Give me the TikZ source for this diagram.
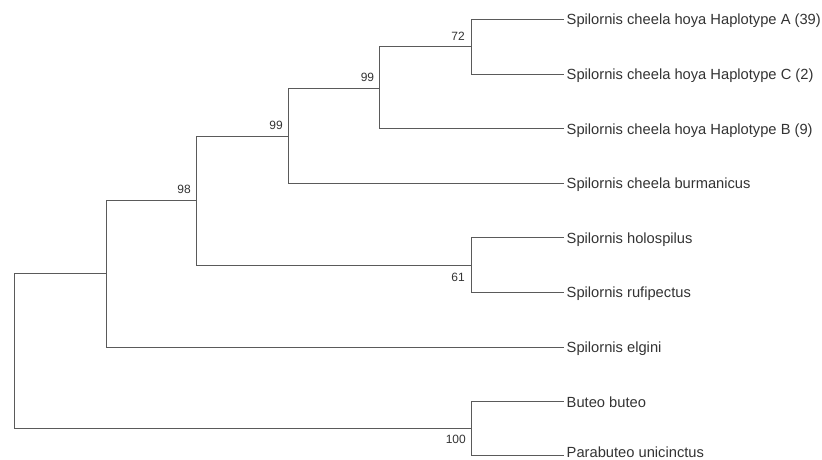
\documentclass[tikz,border=0pt]{standalone}
\usepackage{fontspec}
\setmainfont{Liberation Sans}
\definecolor{branch}{HTML}{5A5A5A}
\definecolor{ink}{HTML}{333333}
\begin{document}
\begin{tikzpicture}[x=1pt,y=-1pt,
  branchline/.style={draw=branch,line width=1pt,line cap=rect},
  taxon/.style={anchor=base west,inner sep=0pt,text=ink,font=\fontsize{14.7}{17}\selectfont},
  bslabel/.style={anchor=base east,inner sep=0pt,text=ink,font=\fontsize{12}{14}\selectfont}]
\useasboundingbox (0,0) rectangle (822,460);

% leaf tips
\coordinate (tA)   at (563,19.5);
\coordinate (tC)   at (563,74.1);
\coordinate (tB)   at (563,128.7);
\coordinate (tbur) at (563,183.3);
\coordinate (thol) at (563,237.9);
\coordinate (truf) at (563,292.5);
\coordinate (telg) at (563,347.1);
\coordinate (tbut) at (563,401.7);
\coordinate (tpar) at (563,455);

% internal nodes
\coordinate (n72)  at (471,46.8);
\coordinate (n99a) at (379.3,88.8);
\coordinate (n99b) at (288,136);
\coordinate (n61)  at (471,265.2);
\coordinate (n98)  at (196,200.6);
\coordinate (nelg) at (106,273.8);
\coordinate (n100) at (471,428.4);
\coordinate (root) at (14,351.1);

% branches
\path[branchline] (n72) |- (tA)  (n72) |- (tC);
\path[branchline] (n99a) |- (n72)  (n99a) |- (tB);
\path[branchline] (n99b) |- (n99a)  (n99b) |- (tbur);
\path[branchline] (n61) |- (thol)  (n61) |- (truf);
\path[branchline] (n98) |- (n99b)  (n98) |- (n61);
\path[branchline] (nelg) |- (n98)  (nelg) |- (telg);
\path[branchline] (n100) |- (tbut)  (n100) |- (tpar);
\path[branchline] (root) |- (nelg)  (root) |- (n100);

% taxon names
\node[taxon] (lA)   at ([xshift=3.5pt,yshift=-5.3pt]tA)   {Spilornis cheela hoya Haplotype A (39)};
\node[taxon] (lC)   at ([xshift=3.5pt,yshift=-5.3pt]tC)   {Spilornis cheela hoya Haplotype C (2)};
\node[taxon] (lB)   at ([xshift=3.5pt,yshift=-5.3pt]tB)   {Spilornis cheela hoya Haplotype B (9)};
\node[taxon] (lbur) at ([xshift=3.5pt,yshift=-5.3pt]tbur) {Spilornis cheela burmanicus};
\node[taxon] (lhol) at ([xshift=3.5pt,yshift=-5.3pt]thol) {Spilornis holospilus};
\node[taxon] (lruf) at ([xshift=3.5pt,yshift=-5.3pt]truf) {Spilornis rufipectus};
\node[taxon] (lelg) at ([xshift=3.5pt,yshift=-5.3pt]telg) {Spilornis elgini};
\node[taxon] (lbut) at ([xshift=3.5pt,yshift=-5.3pt]tbut) {Buteo buteo};
\node[taxon] (lpar) at ([xshift=3.5pt,yshift=-2.8pt]tpar) {Parabuteo unicinctus};

% bootstrap support
\node[bslabel] (b72)  at ([xshift=-6pt,yshift=6pt]n72)   {72};
\node[bslabel] (b99a) at ([xshift=-5pt,yshift=7pt]n99a)  {99};
\node[bslabel] (b99b) at ([xshift=-5pt,yshift=7pt]n99b)  {99};
\node[bslabel] (b98)  at ([xshift=-5pt,yshift=7pt]n98)   {98};
\node[bslabel] (b61)  at ([xshift=-6pt,yshift=-16pt]n61)  {61};
\node[bslabel] (b100) at ([xshift=-5pt,yshift=-15pt]n100) {100};
\end{tikzpicture}
\end{document}
